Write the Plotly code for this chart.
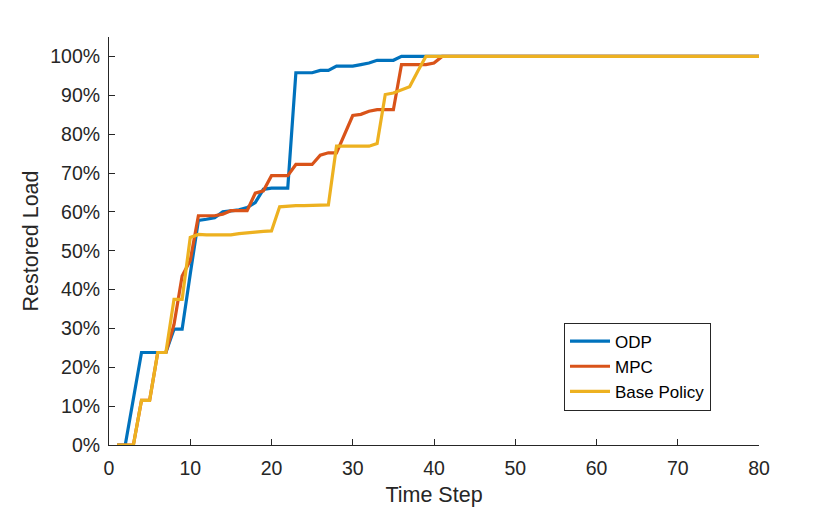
import plotly.graph_objects as go

time_step = list(range(1, 81))

odp = [0, 0, 11.9, 23.8, 23.8, 23.8, 23.8, 29.8, 29.8, 44.0,
       57.8, 58.1, 58.5, 60.0, 60.3, 60.5, 61.1, 62.4, 65.8, 66.1,
       66.1, 66.1, 95.8, 95.8, 95.8, 96.4, 96.4, 97.5, 97.5, 97.5,
       97.9, 98.3, 99.0, 99.0, 99.0] + [100.0] * 45

mpc = [0, 0, 0, 11.5, 11.5, 23.8, 23.8, 31.0, 43.5, 47.5,
       59.0, 59.0, 59.0, 59.4, 60.3, 60.3, 60.3, 64.8, 65.4, 69.3,
       69.3, 69.3, 72.2, 72.2, 72.2, 74.6, 75.2, 75.2, 80.0, 84.8,
       85.1, 85.9, 86.3, 86.3, 86.3, 97.9, 97.9, 97.9, 97.9, 98.3] + [100.0] * 40

base_policy = [0, 0, 0, 11.5, 11.5, 23.8, 23.8, 37.5, 37.5, 53.4,
               54.2, 54.1, 54.1, 54.1, 54.1, 54.4, 54.7, 54.8, 55.0, 55.1,
               61.3, 61.5, 61.6, 61.6, 61.6, 61.6, 61.8, 76.9, 76.9, 76.9,
               76.9, 76.9, 77.6, 90.2, 90.6, 91.4, 92.2, 96.2] + [100.0] * 42

series_names = ["ODP", "MPC", "Base Policy"]
series_colors = ["#0072BD", "#D95319", "#EDB120"]
x_ticks = [0, 10, 20, 30, 40, 50, 60, 70, 80]
y_ticks = [0, 10, 20, 30, 40, 50, 60, 70, 80, 90, 100]
y_tick_labels = [f"{v}%" for v in y_ticks]

ink = "#262626"
font_family = "Liberation Sans, Arial, sans-serif"

fig = go.Figure()
for name, ys, col in zip(series_names, [odp, mpc, base_policy], series_colors):
    fig.add_trace(go.Scatter(x=time_step, y=ys, mode="lines", name=name,
                             line=dict(color=col, width=3.2)))

fig.update_layout(
    width=840, height=510,
    margin=dict(l=101, r=89, t=29, b=73),
    paper_bgcolor="white", plot_bgcolor="white",
    font=dict(family=font_family, color=ink, size=19),
    showlegend=True,
    legend=dict(x=0.7, y=0.3, xanchor="left", yanchor="top",
                bgcolor="white", bordercolor=ink, borderwidth=1,
                font=dict(size=17, color="#000000"),
                tracegroupgap=0, itemwidth=40),
)
fig.update_xaxes(range=[0, 80], tickvals=x_ticks, ticks="inside", ticklen=6,
                 tickcolor=ink, showline=True, linecolor=ink, linewidth=1,
                 showgrid=False, zeroline=False, mirror=False,
                 ticklabelstandoff=6,
                 tickfont=dict(size=19.5, color=ink),
                 title=dict(text="Time Step", font=dict(size=21.5, color=ink), standoff=8))
fig.update_yaxes(range=[0, 105], tickvals=y_ticks, ticktext=y_tick_labels,
                 ticks="inside", ticklen=6,
                 tickcolor=ink, showline=True, linecolor=ink, linewidth=1,
                 showgrid=False, zeroline=False, mirror=False,
                 ticklabelstandoff=4,
                 tickfont=dict(size=19.5, color=ink),
                 title=dict(text="Restored Load", font=dict(size=21.5, color=ink), standoff=5))

fig.write_html("out.html")
